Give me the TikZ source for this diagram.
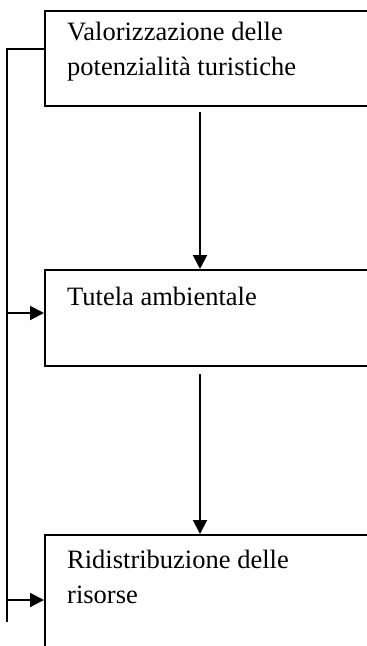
\documentclass[tikz,border=0pt]{standalone}
\usepackage{fontspec}
\setmainfont{Liberation Serif}
\usetikzlibrary{arrows.meta}
\begin{document}
\begin{tikzpicture}[x=1pt,y=-1pt,
  box/.style={draw,line width=2pt,rectangle,inner sep=0pt},
  lbl/.style={anchor=base west,inner sep=0pt,align=left,font=\fontsize{26.5}{35}\selectfont},
  conn/.style={line width=2pt},
  arr/.style={line width=2pt,-{Triangle[length=14pt,width=14pt]}}]
\useasboundingbox (0,0) rectangle (367,646);
\clip (0,0) rectangle (367,646);
% boxes
\node[box,minimum width=340pt,minimum height=95pt] (b1) at (215,58.5) {};
\node[box,minimum width=340pt,minimum height=96pt] (b2) at (215,318) {};
\node[box,minimum width=340pt,minimum height=130pt] (b3) at (215,600) {};
% texts (base = baseline of last line)
\node[lbl] (t1) at (67,75) {Valorizzazione delle\\potenzialità turistiche};
\node[lbl] (t2) at (67,305) {Tutela ambientale};
\node[lbl] (t3) at (67,603) {Ridistribuzione delle\\risorse};
% vertical arrows
\coordinate (s1) at (200,112);
\coordinate (s2) at (200,374);
\draw[arr] (s1) -- (s1 |- b2.north);
\draw[arr] (s2) -- (s2 |- b3.north);
% left feedback line
\coordinate (L0) at (7,49);
\coordinate (L1) at (7,622);
\coordinate (a2) at (7,313);
\coordinate (a3) at (7,600);
\draw[conn] (b1.west |- L0) -- (L0) -- (L1);
\draw[arr] (a2) -- (a2 -| b2.west);
\draw[arr] (a3) -- (a3 -| b3.west);
\end{tikzpicture}
\end{document}
